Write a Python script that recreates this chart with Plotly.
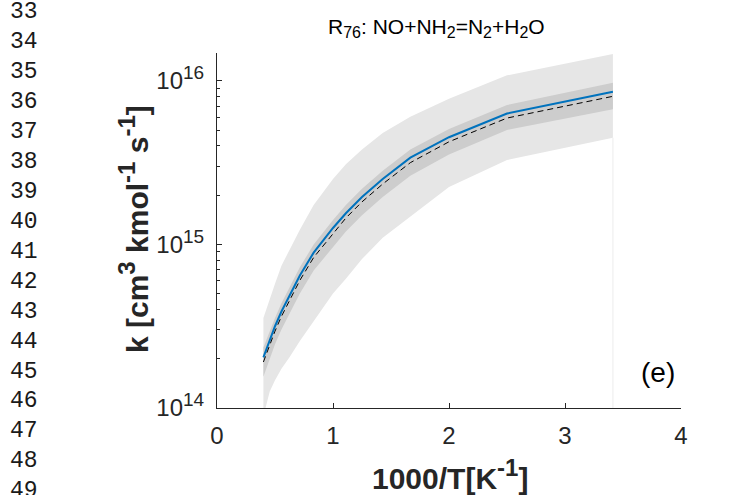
import plotly.graph_objects as go

# ---- data ----
inv_T = [0.4, 0.4545, 0.5, 0.5556, 0.625, 0.7143, 0.8333, 1.0, 1.111, 1.25, 1.4286, 1.6667, 2.0, 2.5, 3.413]

k_nominal = [2.04e14, 2.63e14, 3.16e14, 3.89e14, 4.90e14, 6.46e14, 8.91e14, 1.26e15,
             1.55e15, 1.95e15, 2.51e15, 3.39e15, 4.52e15, 6.31e15, 8.57e15]
k_mean = [1.91e14, 2.45e14, 2.95e14, 3.63e14, 4.57e14, 6.03e14, 8.32e14, 1.17e15,
          1.45e15, 1.82e15, 2.34e15, 3.16e15, 4.24e15, 5.92e15, 8.04e15]
k_inner_hi = [2.34e14, 2.95e14, 3.55e14, 4.37e14, 5.50e14, 7.24e14, 1.00e15, 1.41e15,
              1.74e15, 2.19e15, 2.82e15, 3.80e15, 5.07e15, 7.11e15, 9.72e15]
k_inner_lo = [1.55e14, 2.00e14, 2.45e14, 3.02e14, 3.80e14, 5.01e14, 6.92e14, 9.55e14,
              1.20e15, 1.51e15, 1.95e15, 2.63e15, 3.55e15, 5.01e15, 6.71e15]
k_outer_hi = [3.55e14, 4.68e14, 5.75e14, 7.41e14, 9.33e14, 1.23e15, 1.74e15, 2.51e15,
              3.09e15, 3.80e15, 4.79e15, 6.03e15, 7.76e15, 1.08e16, 1.46e16]
k_outer_lo = [8.9e13, 1.26e14, 1.48e14, 1.74e14, 2.04e14, 2.57e14, 3.39e14, 5.01e14,
              6.17e14, 8.13e14, 1.10e15, 1.48e15, 2.24e15, 3.28e15, 4.49e15]

x_ticks = [0, 1, 2, 3, 4]
y_ticks = [1e14, 1e15, 1e16]
y_exponents = ["14", "15", "16"]
y_minor = [2e14, 3e14, 4e14, 5e14, 6e14, 7e14, 8e14, 9e14,
           2e15, 3e15, 4e15, 5e15, 6e15, 7e15, 8e15, 9e15]

line_numbers = ["33", "34", "35", "36", "37", "38", "39", "40", "41",
                "42", "43", "44", "45", "46", "47", "48", "49"]

panel_label = "(e)"


def sup(s, size):
    return "<sup><span style='font-size:%dpx'>%s</span></sup>" % (size, s)


def sub(s, size):
    return "<sub><span style='font-size:%dpx'>%s</span></sub>" % (size, s)


y_ticktext = ["10" + sup(e, 19) for e in y_exponents]
title_text = ("R" + sub("76", 16) + ": NO+NH" + sub("2", 16) + "=N" + sub("2", 16)
              + "+H" + sub("2", 16) + "O")
xtitle_text = "<b>1000/T[K" + sup("-1", 24) + "]</b>"
ytitle_text = ("<b>k [cm" + sup("3", 24) + " kmol" + sup("-1", 24) + " s" + sup("-1", 24) + "]</b>")

# ---- layout geometry (pixels) ----
W, H = 734, 495
L, R, T, B = 217, 53, 53, 87
pw, ph = W - L - R, H - T - B


def px(xp):
    return (xp - L) / pw


def py(yp):
    return (H - B - yp) / ph


AX = "#262626"
LIGHT = "#e6e6e6"
DARK = "#cdcdcd"

fig = go.Figure()

# outer (light) band
fig.add_trace(go.Scatter(x=inv_T, y=k_outer_lo, mode="lines", line=dict(width=0, color=LIGHT),
                         showlegend=False, hoverinfo="skip"))
fig.add_trace(go.Scatter(x=inv_T, y=k_outer_hi, mode="lines", line=dict(width=0, color=LIGHT),
                         fill="tonexty", fillcolor=LIGHT, showlegend=False, hoverinfo="skip"))
# faint edge of the light patch at the right end
fig.add_trace(go.Scatter(x=[inv_T[-1], inv_T[-1]], y=[k_outer_lo[-1], y_ticks[0]], mode="lines",
                         line=dict(width=1, color="#ececec"), showlegend=False, hoverinfo="skip"))
# inner (dark) band
fig.add_trace(go.Scatter(x=inv_T, y=k_inner_lo, mode="lines", line=dict(width=0, color=DARK),
                         showlegend=False, hoverinfo="skip"))
fig.add_trace(go.Scatter(x=inv_T, y=k_inner_hi, mode="lines", line=dict(width=0, color=DARK),
                         fill="tonexty", fillcolor=DARK, showlegend=False, hoverinfo="skip"))
# nominal (blue) and mean (dashed black)
fig.add_trace(go.Scatter(x=inv_T, y=k_nominal, mode="lines", line=dict(width=2, color="#0072BD"),
                         showlegend=False))
fig.add_trace(go.Scatter(x=inv_T, y=k_mean, mode="lines",
                         line=dict(width=1, color="#000000", dash="6px,4px"), showlegend=False))

FONT = "Liberation Sans, Arial, sans-serif"

fig.update_layout(
    width=W, height=H,
    margin=dict(l=L, r=R, t=T, b=B, pad=0),
    paper_bgcolor="white", plot_bgcolor="white",
    font=dict(family=FONT, color=AX, size=24),
    showlegend=False,
    xaxis=dict(range=[0, 4], tickvals=x_ticks, ticks="inside", ticklen=5, tickcolor=AX,
               showline=True, linecolor=AX, linewidth=1, showgrid=False, zeroline=False,
               tickfont=dict(size=24, color=AX), ticklabelstandoff=6),
    yaxis=dict(type="log", range=[14, 16.17], tickvals=y_ticks, ticktext=y_ticktext,
               ticks="inside", ticklen=5, tickcolor=AX,
               showline=True, linecolor=AX, linewidth=1, showgrid=False, zeroline=False,
               tickfont=dict(size=24, color=AX), ticklabelstandoff=7,
               minor=dict(tickvals=y_minor, ticks="inside", ticklen=3, tickcolor=AX, showgrid=False)),
)

ann = []
# line numbers from the source document margin
for i, s in enumerate(line_numbers):
    ann.append(dict(text=s, xref="paper", yref="paper", x=px(24), y=py(12 + i * 29.96),
                    xanchor="center", yanchor="middle", showarrow=False,
                    font=dict(family="Liberation Mono, Courier New, monospace", size=23, color="#1a1a1a")))
# title
ann.append(dict(text=title_text, xref="paper", yref="paper", x=px(436), y=py(28),
                xanchor="center", yanchor="middle", showarrow=False,
                font=dict(family=FONT, size=21, color="#000000")))
# axis titles
ann.append(dict(text=xtitle_text, xref="paper", yref="paper", x=px(450), y=py(474),
                xanchor="center", yanchor="middle", showarrow=False,
                font=dict(family=FONT, size=30, color=AX)))
ann.append(dict(text=ytitle_text, xref="paper", yref="paper",
                x=px(133), y=py(229), textangle=-90, xanchor="center", yanchor="middle", showarrow=False,
                font=dict(family=FONT, size=30, color=AX)))
# panel label
ann.append(dict(text=panel_label, xref="x", yref="paper", x=3.8, y=py(372),
                xanchor="center", yanchor="middle", showarrow=False,
                font=dict(family=FONT, size=28, color="#000000")))

fig.update_layout(annotations=ann)
fig.write_html("out.html", config={"displayModeBar": False},
               post_script="document.body.style.margin='0px';document.body.style.overflow='hidden';")
